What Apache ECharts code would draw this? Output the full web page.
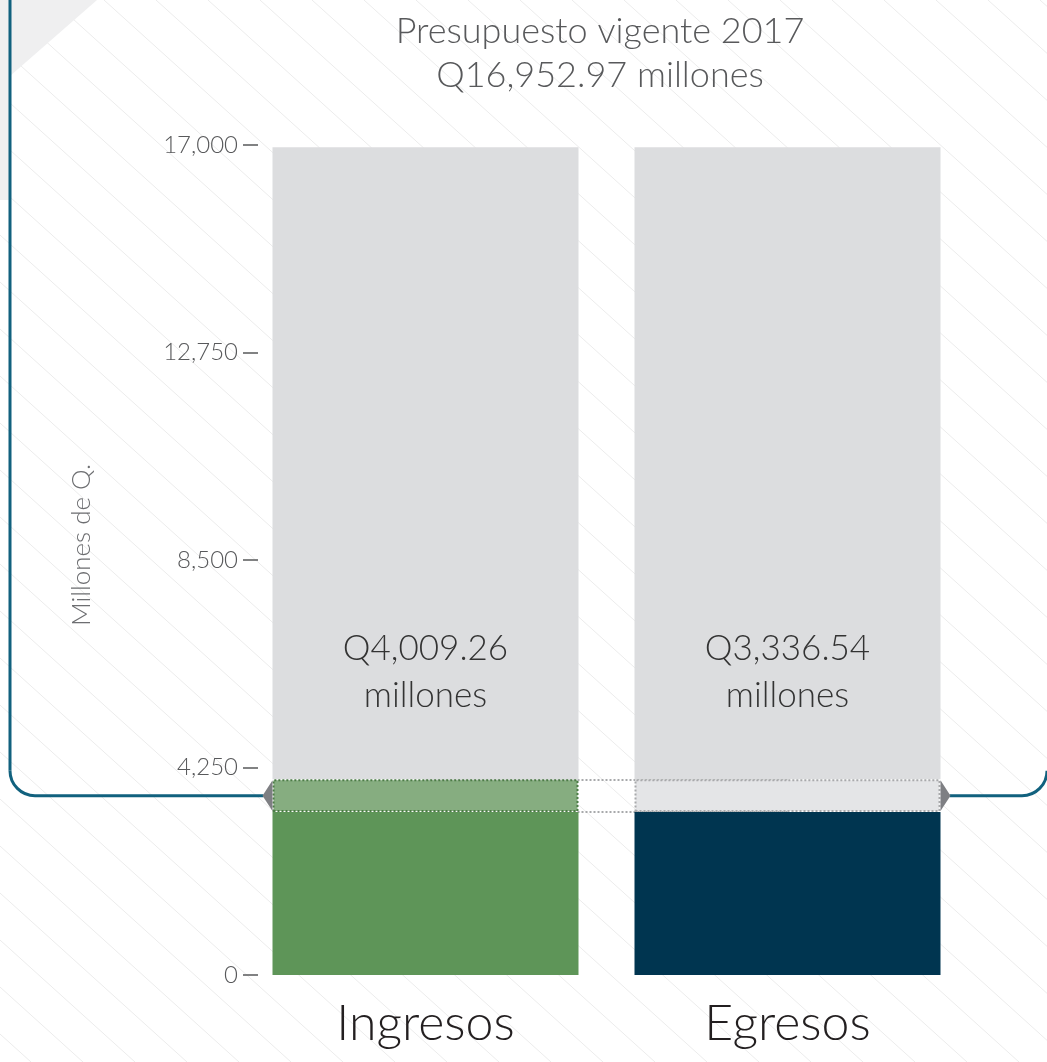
<!DOCTYPE html>
<html lang="es">
<head>
    <meta charset="utf-8">
    <title>Presupuesto vigente 2017</title>
    <script src="https://cdn.jsdelivr.net/npm/echarts@6/dist/echarts.min.js"></script>
    <style>
        html, body { margin: 0; padding: 0; background: #fff; }
        #chart { width: 1047px; height: 1062px; }
    </style>
</head>
<body>
<div id="chart"></div>
<script>
    // datos
    var categorias = ['Ingresos', 'Egresos'];
    var presupuesto = 16952.97;          // presupuesto vigente 2017
    var montos = [4009.26, 3336.54];     // ingresos, egresos
    var ejeMax = 17000;
    var ejePaso = 4250;

    var colorBase = ['#5e9558', '#003550'];
    var colorBanda = ['#86ad80', '#e4e5e7'];
    var bordeBanda = ['#4b7c45', '#a8a9ab'];
    var gris = '#dcdddf';
    var marco = '#11617e';

    function miles(v, dec) {
        return v.toFixed(dec).replace(/\B(?=(\d{3})+(?!\d))/g, ',');
    }

    var base = Math.min(montos[0], montos[1]);
    var tope = Math.max(montos[0], montos[1]);
    var datosBase = [], datosBanda = [], datosResto = [];
    for (var i = 0; i < categorias.length; i++) {
        datosBase.push({value: base, itemStyle: {color: colorBase[i]}});
        datosBanda.push({value: tope - base, itemStyle: {color: colorBanda[i], borderColor: bordeBanda[i]}});
        datosResto.push(presupuesto - tope);
    }

    // fondo rayado
    var tile = document.createElement('canvas');
    tile.width = 52; tile.height = 47;
    var ctx = tile.getContext('2d');
    ctx.strokeStyle = '#ececec';
    ctx.lineWidth = 1;
    for (var k = -1; k <= 1; k++) {
        ctx.beginPath();
        ctx.moveTo(k * 52, 0);
        ctx.lineTo(k * 52 + 52, 47);
        ctx.stroke();
    }

    var fuente = 'Lato, "Open Sans", sans-serif';
    var barW = 306;

    var chart = echarts.init(document.getElementById('chart'));
    var option = {
        backgroundColor: '#fff',
        animation: false,
        title: {
            text: 'Presupuesto vigente 2017\nQ' + miles(presupuesto, 2) + ' millones',
            left: 595,
            top: 4,
            textAlign: 'center',
            textStyle: {
                fontFamily: fuente, fontWeight: 300, fontSize: 36,
                lineHeight: 44, color: '#58595b'
            }
        },
        grid: {left: 244.5, right: 78.5, top: 145, bottom: 87},
        xAxis: {
            type: 'category',
            data: categorias,
            axisLine: {show: false},
            axisTick: {show: false},
            axisLabel: {
                margin: 24, fontFamily: fuente, fontWeight: 300,
                fontSize: 50, color: '#231f20'
            }
        },
        yAxis: {
            type: 'value',
            min: 0, max: ejeMax, interval: ejePaso,
            offset: -13.5,
            name: 'Millones de Q.',
            nameLocation: 'middle',
            nameGap: 163,
            nameTextStyle: {
                fontFamily: fuente, fontWeight: 300, fontSize: 26,
                color: '#6d6e71', padding: [0, 0, 0, 30]
            },
            axisLine: {show: false},
            splitLine: {show: false},
            axisTick: {show: true, length: 15, lineStyle: {color: '#58595b', width: 1.5}},
            axisLabel: {
                margin: 20, fontFamily: fuente, fontWeight: 300,
                fontSize: 24, color: '#58595b',
                formatter: function (v) { return miles(v, 0); }
            }
        },
        series: [
            {
                name: 'base', type: 'bar', stack: 'p', barWidth: barW,
                data: datosBase, z: 2
            },
            {
                name: 'banda', type: 'bar', stack: 'p', barWidth: barW,
                data: datosBanda, z: 3,
                itemStyle: {borderWidth: 2, borderType: 'dotted'},
                markLine: {
                    silent: true, z: 1, symbol: 'none',
                    label: {show: false},
                    lineStyle: {type: 'dotted', color: '#a8a9ab', width: 2},
                    data: [
                        [{coord: [0, base]}, {coord: [1, base]}],
                        [{coord: [0, tope]}, {coord: [1, tope]}]
                    ]
                }
            },
            {
                name: 'resto', type: 'bar', stack: 'p', barWidth: barW,
                data: datosResto, z: 2,
                itemStyle: {color: gris},
                label: {
                    show: true, position: 'insideBottom', distance: 60,
                    fontFamily: fuente, fontWeight: 300, fontSize: 35,
                    lineHeight: 47, color: '#333333',
                    formatter: function (p) {
                        return 'Q' + miles(montos[p.dataIndex], 2) + '\nmillones';
                    }
                }
            }
        ]
    };
    chart.setOption(option);

    // marco y flechas
    var yMid = chart.convertToPixel({yAxisIndex: 0}, (base + tope) / 2);
    var yTop = chart.convertToPixel({yAxisIndex: 0}, tope);
    var yBot = chart.convertToPixel({yAxisIndex: 0}, base);
    var xIzq = chart.convertToPixel({xAxisIndex: 0}, 0) - barW / 2;
    var xDer = chart.convertToPixel({xAxisIndex: 0}, 1) + barW / 2;
    var W = chart.getWidth();
    var R = 25;
    var trazo = {stroke: marco, lineWidth: 3, fill: null};

    chart.setOption({
        graphic: [
            {type: 'rect', z: -100, silent: true, shape: {x: 0, y: 0, width: W, height: chart.getHeight()},
                style: {fill: {image: tile, repeat: 'repeat'}}},
            {type: 'polygon', z: -99, silent: true, shape: {points: [[0, 0], [97, 0], [10, 76], [10, 200], [0, 200]]},
                style: {fill: '#efeff0'}},
            {type: 'polyline', z: 10, silent: true,
                shape: {points: [[10, 0], [10, yMid - R]]}, style: trazo},
            {type: 'arc', z: 10, silent: true,
                shape: {cx: 10 + R, cy: yMid - R, r: R, startAngle: Math.PI / 2, endAngle: Math.PI, clockwise: true},
                style: trazo},
            {type: 'polyline', z: 10, silent: true,
                shape: {points: [[10 + R, yMid], [xIzq - 9, yMid]]}, style: trazo},
            {type: 'polyline', z: 10, silent: true,
                shape: {points: [[xDer + 9, yMid], [W - R, yMid]]}, style: trazo},
            {type: 'arc', z: 10, silent: true,
                shape: {cx: W - R, cy: yMid - R, r: R, startAngle: 0, endAngle: Math.PI / 2, clockwise: true},
                style: trazo},
            {type: 'polygon', z: 11, silent: true,
                shape: {points: [[xIzq, yTop + 1], [xIzq - 10, yMid], [xIzq, yBot - 1]]},
                style: {fill: '#7e7f83'}},
            {type: 'polygon', z: 11, silent: true,
                shape: {points: [[xDer, yTop + 1], [xDer + 10, yMid], [xDer, yBot - 1]]},
                style: {fill: '#7e7f83'}}
        ]
    });
</script>
</body>
</html>
